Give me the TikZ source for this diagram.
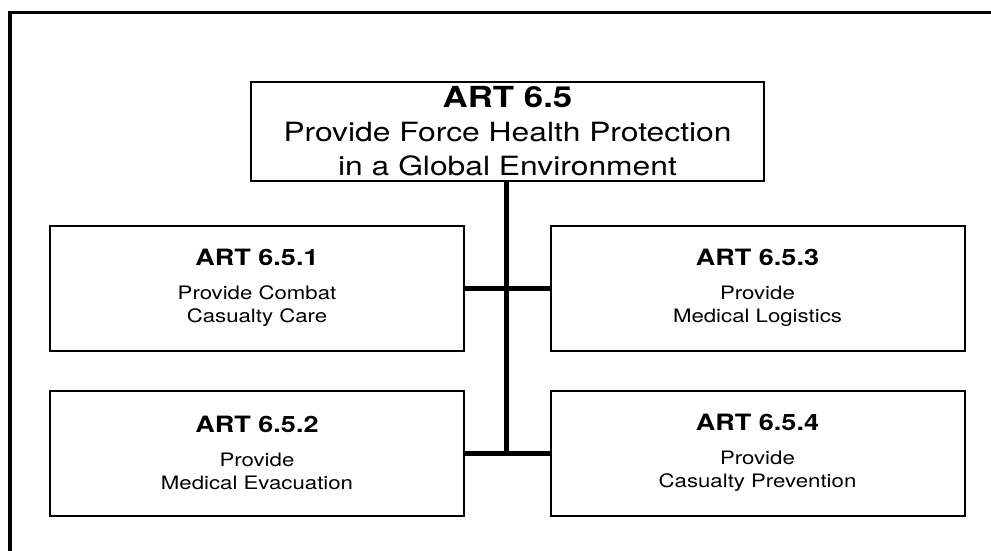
\documentclass[tikz,border=0pt]{standalone}
\usepackage{fontspec}
\setmainfont{TeX Gyre Heros}[FakeStretch=1.2]
\usetikzlibrary{positioning}

\begin{document}
\begin{tikzpicture}[
  x=1pt, y=-1pt,
  box/.style={rectangle, draw=black, line width=2pt, fill=white, align=center,
              minimum width=414pt, minimum height=125pt, inner sep=0pt,
              font=\fontsize{18.5}{23}\selectfont},
  link/.style={line width=5pt, color=black}
]
\useasboundingbox (0,0) rectangle (991,550);
\begin{scope}
  \clip (0,0) rectangle (991,550);
  \draw[line width=3.5pt] (10,12.5) rectangle (1100,700);
\end{scope}

\node[box, minimum width=513pt, minimum height=99pt,
      font=\fontsize{26.5}{34}\selectfont] (art) at (507.5,131.5)
  {{\fontsize{29}{34}\selectfont\bfseries ART 6.5}\\ Provide Force Health Protection\\ in a Global Environment};

\node[box] (care) at (257,288)
  {{\fontsize{22.5}{25}\selectfont\bfseries ART 6.5.1}\\[11pt] Provide Combat\\ Casualty Care};
\node[box] (evac) at (257,453)
  {{\fontsize{22.5}{25}\selectfont\bfseries ART 6.5.2}\\[11pt] Provide\\ Medical Evacuation};
\node[box] (logi) at (757.5,288)
  {{\fontsize{22.5}{25}\selectfont\bfseries ART 6.5.3}\\[11pt] Provide\\ Medical Logistics};
\node[box] (prev) at (757.5,453)
  {{\fontsize{22.5}{25}\selectfont\bfseries ART 6.5.4}\\[11pt] Provide\\ Casualty Prevention};

\draw[link] (art.south -| 506,0) -- (506,0 |- evac.east);
\draw[link] (care) -- (logi);
\draw[link] (evac) -- (prev);

\end{tikzpicture}
\end{document}
